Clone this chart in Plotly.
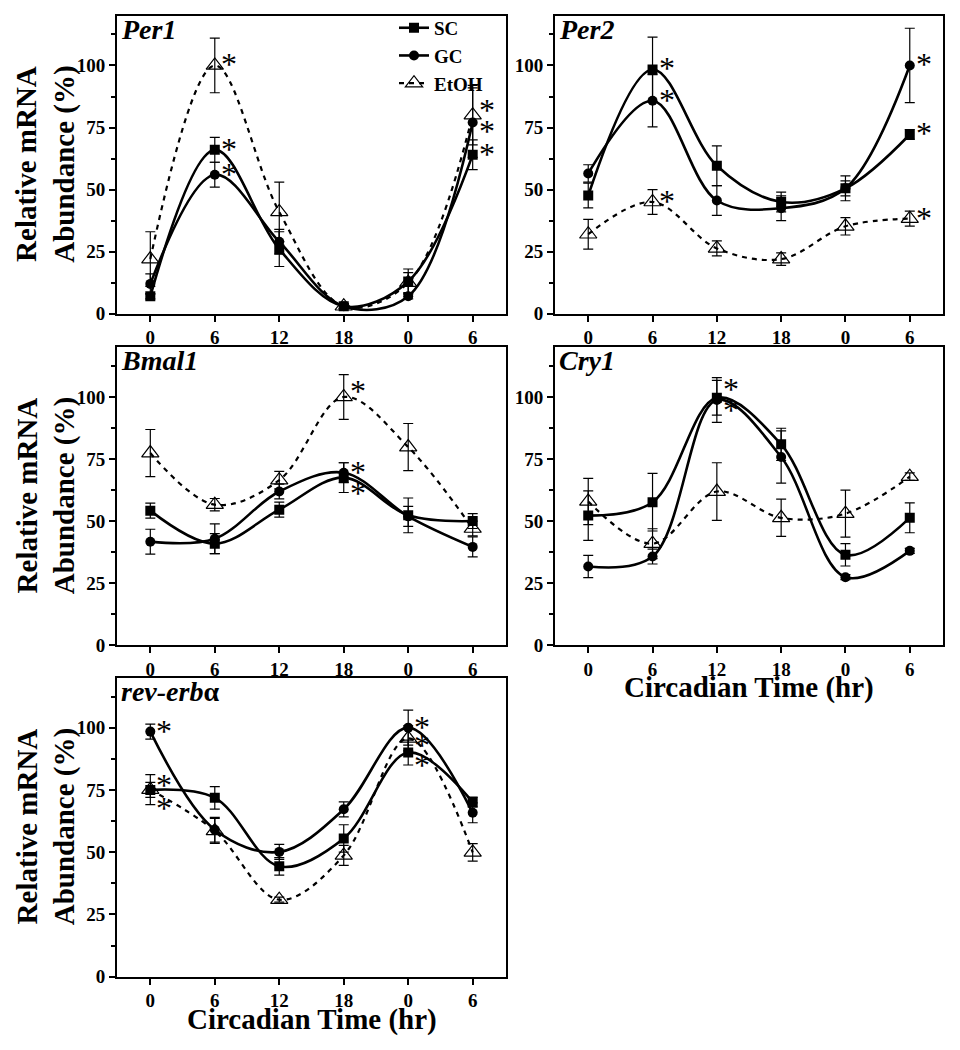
import plotly.graph_objects as go

# circadian time points (continuous hours) and the labels printed under them
hours = [0, 6, 12, 18, 24, 30]
hour_labels = ['0', '6', '12', '18', '0', '6']
groups = ['SC', 'GC', 'EtOH']

# relative mRNA abundance (%) and error bars
per1_sc = [7, 66, 26, 3, 13, 64]
per1_sc_err = [1, 5, 7, 1, 5, 6]
per1_gc = [12, 56, 29, 3, 7, 77]
per1_gc_err = [4, 5, 5, 1, 1, 14]
per1_etoh = [22, 100, 41, 3, 12.5, 80]
per1_etoh_err = [11, 11, 12, 1, 4, 12]

per2_sc = [47.6, 98.4, 59.6, 45, 50.5, 72.2]
per2_sc_err = [5, 13, 8, 4, 5, 2]
per2_gc = [56.5, 85.8, 45.6, 42.5, 50.5, 100]
per2_gc_err = [3.5, 10.5, 6, 5, 3, 15]
per2_etoh = [32, 45, 26.3, 22, 35.2, 38.3]
per2_etoh_err = [6, 5, 3, 2.5, 3.5, 3]

bmal1_sc = [54.2, 40.9, 54.6, 67.5, 52.3, 50]
bmal1_sc_err = [3, 4, 3, 6, 7, 3]
bmal1_gc = [41.7, 42.9, 61.9, 69.5, 51.9, 39.6]
bmal1_gc_err = [5, 6, 3, 4, 4, 4]
bmal1_etoh = [77.4, 56.6, 66.5, 100, 79.8, 47]
bmal1_etoh_err = [9.5, 2.5, 3.5, 9, 9.5, 3]

cry1_sc = [52.2, 57.6, 99.7, 80.9, 36.4, 51.3]
cry1_sc_err = [10, 11.6, 7, 6.5, 4.5, 6]
cry1_gc = [31.7, 35.7, 98.8, 75.8, 27.4, 38]
cry1_gc_err = [4.5, 3, 9, 10.5, 1, 1]
cry1_etoh = [57.9, 40.9, 61.9, 51.3, 53, 67.9]
cry1_etoh_err = [9.3, 6, 11.6, 7.5, 9.5, 1.5]

rev_sc = [75, 71.8, 44.3, 55.5, 90, 70.1]
rev_sc_err = [3, 4.5, 3.5, 5.5, 5, 2]
rev_gc = [98.4, 59, 50.1, 67.2, 100, 65.8]
rev_gc_err = [3, 5, 3, 3, 7, 4]
rev_etoh = [75.1, 58.5, 30.9, 48.7, 95.7, 49.9]
rev_etoh_err = [6, 5, 1, 4, 5, 3.5]

# significance: indices of starred points per series
per1_stars = {'SC': [1, 5], 'GC': [1, 5], 'EtOH': [1, 5]}
per2_stars = {'SC': [1, 5], 'GC': [1, 5], 'EtOH': [1, 5]}
bmal1_stars = {'SC': [3], 'GC': [3], 'EtOH': [3]}
cry1_stars = {'SC': [2], 'GC': [2]}
rev_stars = {'SC': [0, 4], 'GC': [0, 4], 'EtOH': [0, 4]}

panels = [
    ('<i>Per1</i>', [per1_sc, per1_gc, per1_etoh], [per1_sc_err, per1_gc_err, per1_etoh_err], per1_stars),
    ('<i>Per2</i>', [per2_sc, per2_gc, per2_etoh], [per2_sc_err, per2_gc_err, per2_etoh_err], per2_stars),
    ('<i>Bmal1</i>', [bmal1_sc, bmal1_gc, bmal1_etoh], [bmal1_sc_err, bmal1_gc_err, bmal1_etoh_err], bmal1_stars),
    ('<i>Cry1</i>', [cry1_sc, cry1_gc, cry1_etoh], [cry1_sc_err, cry1_gc_err, cry1_etoh_err], cry1_stars),
    ('<i>rev-erb</i>α', [rev_sc, rev_gc, rev_etoh], [rev_sc_err, rev_gc_err, rev_etoh_err], rev_stars),
]

# star vertical nudges (px) where stars sit beside / below the point
star_nudge = {
    (0, 'GC', 5): -9, (0, 'EtOH', 5): 4,
    (2, 'SC', 3): -16, (2, 'EtOH', 3): 5,
    (3, 'SC', 2): 8, (3, 'GC', 2): -11,
    (4, 'SC', 0): -19, (4, 'EtOH', 0): 4,
    (4, 'EtOH', 4): -8, (4, 'SC', 4): -13,
}

W, H = 960, 1050
serif = 'Liberation Serif'
# pixel boxes of the five plot areas: (left, right, top, bottom)
boxes = [(117, 506, 16, 317), (555, 943, 16, 317),
         (117, 506, 351, 652), (555, 943, 351, 652),
         (117, 506, 685, 987)]

styles = {
    'SC': dict(marker=dict(symbol='square', size=10, color='black'),
               line=dict(color='black', width=2.6, shape='spline', smoothing=1.0)),
    'GC': dict(marker=dict(symbol='circle', size=10, color='black'),
               line=dict(color='black', width=2.6, shape='spline', smoothing=1.0)),
    'EtOH': dict(marker=dict(symbol='triangle-up-open', size=15, color='black',
                             line=dict(width=1.2, color='black')),
                 line=dict(color='black', width=2.2, dash='5px,5px', shape='spline', smoothing=1.0)),
}

fig = go.Figure()
annotations = []
layout = {}

for p, (title, series, errs, stars) in enumerate(panels):
    n = p + 1
    xa = 'x' if n == 1 else f'x{n}'
    ya = 'y' if n == 1 else f'y{n}'
    l, r, t, b = boxes[p]
    for g, vals, err in zip(groups, series, errs):
        fig.add_trace(go.Scatter(
            x=hours, y=vals, name=g, mode='lines+markers',
            xaxis=xa, yaxis=ya, showlegend=(p == 0),
            error_y=dict(type='data', array=err, visible=True, color='black',
                         thickness=1.2, width=5),
            **styles[g]))
        for i in stars.get(g, []):
            annotations.append(dict(
                x=hours[i], y=vals[i], xref=xa, yref=ya, text='*', showarrow=False,
                xshift=14, yshift=1 + star_nudge.get((p, g, i), 0),
                font=dict(family=serif, size=32, color='black')))

    axis_common = dict(showline=True, linecolor='black', linewidth=2, mirror=True,
                       ticks='outside', tickcolor='black', tickwidth=1.5, ticklen=6,
                       showgrid=False, zeroline=False,
                       tickfont=dict(family=serif, size=19, color='black', weight='bold'))
    layout[f'xaxis{n}'] = dict(domain=[l / W, r / W], anchor=ya, range=[-3.1, 33.1],
                               tickvals=hours, ticktext=hour_labels, **axis_common)
    layout[f'yaxis{n}'] = dict(domain=[1 - b / H, 1 - t / H], anchor=xa, range=[0, 120],
                               tickvals=[0, 25, 50, 75, 100],
                               minor=dict(tick0=0, dtick=12.5, ticklen=4, tickwidth=1.5,
                                          tickcolor='black', ticks='outside'),
                               **axis_common)
    # gene name inside top-left corner
    annotations.append(dict(x=(l + 2) / W, y=1 - (t - 4) / H, xref='paper', yref='paper',
                            xanchor='left', yanchor='top', text=title, showarrow=False,
                            font=dict(family=serif, size=28, color='black', weight='bold')))
    # y title for left column
    if l < 300:
        annotations.append(dict(x=46 / W, y=1 - (t + b) / 2 / H, xref='paper', yref='paper',
                                text='Relative mRNA<br>Abundance (%)', textangle=-90,
                                showarrow=False, xanchor='center', yanchor='middle',
                                font=dict(family=serif, size=29, color='black', weight='bold')))
    # x title under the lowest panel of each column
    if n in (4, 5):
        annotations.append(dict(x=(l + r) / 2 / W, y=1 - (b + 43) / H, xref='paper', yref='paper',
                                text='Circadian Time (hr)', showarrow=False,
                                xanchor='center', yanchor='middle',
                                font=dict(family=serif, size=29, color='black', weight='bold')))

fig.update_layout(
    width=W, height=H, margin=dict(l=0, r=0, t=0, b=0),
    paper_bgcolor='white', plot_bgcolor='white',
    annotations=annotations,
    legend=dict(x=394 / W, y=1 - 9 / H, xanchor='left', yanchor='top',
                bgcolor='rgba(0,0,0,0)', tracegroupgap=0, itemwidth=30,
                font=dict(family=serif, size=19, color='black', weight='bold')),
    **layout)

fig.write_html("out.html", config={'displayModeBar': False},
               post_script="document.body.style.margin='0';")
